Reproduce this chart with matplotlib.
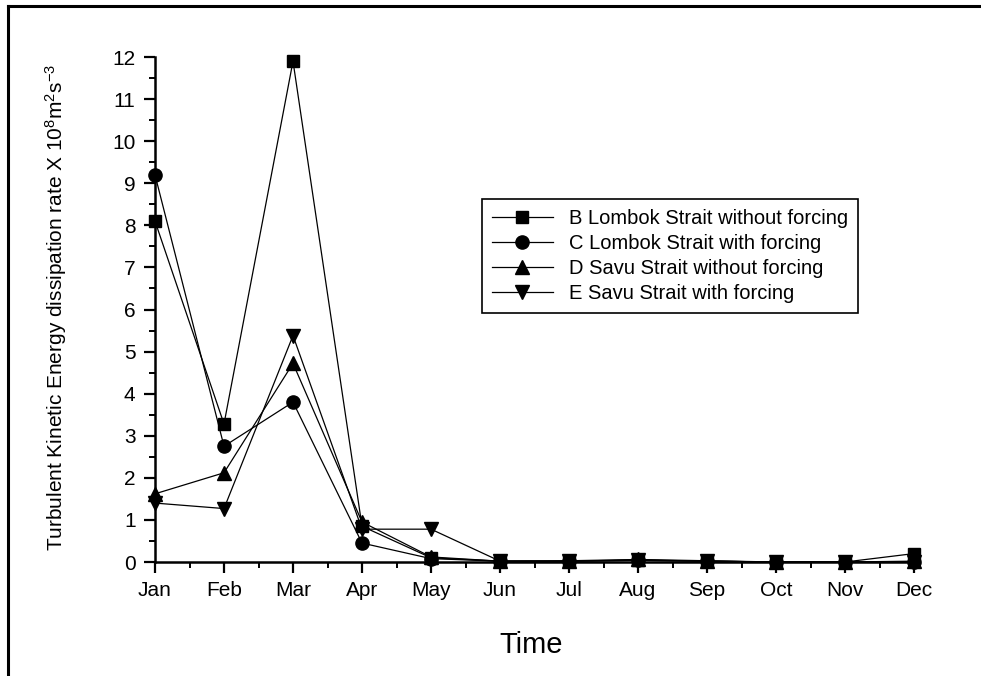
import matplotlib
matplotlib.use('Agg')
import matplotlib.pyplot as plt
from matplotlib.lines import Line2D
from matplotlib.ticker import MultipleLocator

plt.rcParams['font.family'] = ['Liberation Sans', 'DejaVu Sans']
plt.rcParams['mathtext.fontset'] = 'custom'
plt.rcParams['mathtext.rm'] = 'Liberation Sans'
plt.rcParams['mathtext.default'] = 'regular'

# Datos
months = ['Jan', 'Feb', 'Mar', 'Apr', 'May', 'Jun',
          'Jul', 'Aug', 'Sep', 'Oct', 'Nov', 'Dec']
lombok_no_forcing = [8.1, 3.28, 11.9, 0.85, 0.1, 0.02, 0.02, 0.04, 0.02, 0.0, 0.0, 0.2]
lombok_forcing = [9.2, 2.75, 3.8, 0.45, 0.08, 0.02, 0.02, 0.05, 0.02, 0.0, 0.0, 0.0]
savu_no_forcing = [1.62, 2.12, 4.72, 0.95, 0.12, 0.02, 0.03, 0.06, 0.03, 0.0, 0.0, 0.02]
savu_forcing = [1.4, 1.27, 5.38, 0.78, 0.78, 0.02, 0.02, 0.04, 0.02, 0.0, 0.0, 0.0]

labels = ['B Lombok Strait without forcing',
          'C Lombok Strait with forcing',
          'D Savu Strait without forcing',
          'E Savu Strait with forcing']

fig = plt.figure(figsize=(9.81, 6.76), dpi=100)
ax = fig.add_axes([155/981, 1 - 562/676, 759/981, 505/676])

x = list(range(len(months)))
series = [lombok_no_forcing, lombok_forcing, savu_no_forcing, savu_forcing]
markers = [('s', 8.5), ('o', 9.5), ('^', 10), ('v', 10)]
for vals, (m, ms), lab in zip(series, markers, labels):
    ax.plot(x, vals, color='black', lw=0.9, marker=m, ms=ms,
            label=lab, clip_on=False, zorder=3)

ax.set_xlim(0, 11)
ax.set_ylim(0, 12)
ax.set_xticks(x)
ax.set_xticklabels(months)
ax.xaxis.set_minor_locator(MultipleLocator(0.5))
ax.yaxis.set_major_locator(MultipleLocator(1))
ax.yaxis.set_minor_locator(MultipleLocator(0.5))

for side in ['top', 'right']:
    ax.spines[side].set_visible(False)
for side in ['left', 'bottom']:
    ax.spines[side].set_linewidth(1.8)

ax.tick_params(which='major', length=8, width=1.6, labelsize=15, pad=6)
ax.tick_params(which='minor', length=4, width=1.4)

ax.set_xlabel('Time', fontsize=21)
ax.xaxis.set_label_coords(0.495, -0.137)
ax.set_ylabel('Turbulent Kinetic Energy dissipation rate X 10$^8$m$^2$s$^{-3}$',
              fontsize=15)
ax.yaxis.set_label_coords(-0.113, 0.505)

leg = ax.legend(loc='upper left', bbox_to_anchor=(0.431, 0.719),
                fontsize=14.5, handlelength=3.0, labelspacing=0.3,
                fancybox=False, edgecolor='black', framealpha=1,
                borderpad=0.5, borderaxespad=0)
leg.get_frame().set_linewidth(1.2)

# Marco exterior (solo arriba e izquierda, la imagen esta recortada)
fig.add_artist(Line2D([8, 981], [670, 670], transform=None, color='black', lw=2.2))
fig.add_artist(Line2D([8, 8], [0, 670], transform=None, color='black', lw=2.2))

fig.savefig('out.png', dpi=100)
